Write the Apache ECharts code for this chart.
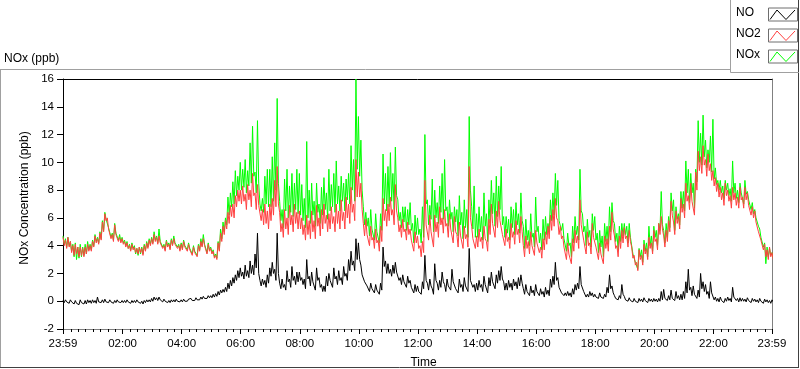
<!DOCTYPE html>
<html>
<head>
<meta charset="utf-8">
<script src="https://cdn.jsdelivr.net/npm/echarts@6/dist/echarts.min.js"></script>
<style>
html,body{margin:0;padding:0;background:#fff;}
#chart{width:800px;height:369px;}
</style>
</head>
<body>
<div id="chart"></div>
<script>
// ---- data: 5-minute bins starting at 23:59 (minute -1); for each bin the upper and lower
// values (the trace swings between them inside the bin) ----
const startMinute = -1;
const stepMinutes = 5;
const seriesNames = ['NO', 'NO2', 'NOx'];

const no2High = [
  4.6, 4.4, 4.6, 4.3, 4.0, 4.1, 3.9, 3.9, 3.8, 3.9, 4.1, 4.0,
  4.3, 4.7, 4.5, 4.9, 5.7, 6.3, 6.0, 5.1, 4.8, 5.5, 4.8, 4.6,
  4.5, 4.3, 4.2, 4.0, 4.1, 3.9, 3.8, 3.9, 3.8, 4.0, 4.2, 4.4,
  4.5, 4.8, 4.6, 4.7, 4.2, 4.0, 4.3, 4.1, 4.4, 4.5, 4.2, 4.0,
  4.1, 4.3, 4.0, 4.1, 3.7, 3.9, 3.6, 4.0, 4.3, 4.5, 3.9, 4.1,
  3.8, 3.6, 3.3, 4.2, 4.9, 5.4, 5.8, 6.4, 6.9, 7.0, 7.6, 8.0,
  8.0, 8.3, 7.7, 8.4, 8.0, 9.2, 7.8, 8.4, 6.8, 6.6, 7.0, 6.5,
  7.0, 7.4, 8.7, 9.7, 6.4, 5.6, 6.6, 6.0, 6.9, 6.2, 7.0, 6.4,
  6.5, 6.0, 5.5, 6.2, 5.8, 6.5, 5.8, 6.9, 6.0, 6.6, 7.0, 6.2,
  6.3, 6.8, 6.1, 7.0, 6.5, 7.3, 6.4, 7.5, 7.0, 8.2, 7.0, 10.2,
  9.3, 8.5, 5.6, 5.9, 4.8, 5.4, 4.6, 5.2, 4.4, 5.4, 7.4, 6.6,
  7.0, 7.5, 6.6, 8.4, 6.0, 5.5, 5.9, 5.2, 5.7, 5.2, 4.4, 5.0,
  4.7, 4.0, 4.3, 8.7, 5.4, 6.2, 4.9, 6.2, 5.7, 6.8, 6.0, 6.6,
  5.6, 6.3, 5.2, 6.1, 4.8, 5.7, 4.6, 5.4, 4.8, 9.7, 5.4, 4.6,
  4.7, 5.2, 4.6, 5.4, 4.3, 5.9, 7.0, 5.5, 6.5, 7.2, 5.7, 4.8,
  5.2, 4.6, 5.6, 5.0, 5.8, 5.2, 6.1, 4.0, 4.7, 4.3, 5.0, 4.1,
  5.1, 4.3, 3.9, 4.5, 5.0, 5.4, 6.2, 6.6, 7.4, 5.8, 5.4, 4.7,
  3.8, 4.2, 3.4, 4.5, 5.1, 4.7, 7.3, 5.4, 4.3, 5.0, 4.2, 5.6,
  4.7, 3.8, 4.2, 3.4, 4.7, 4.5, 5.4, 6.4, 4.7, 4.0, 4.7, 5.1,
  5.3, 4.7, 5.1, 3.9, 3.3, 2.8, 3.7, 3.3, 4.1, 3.8, 4.6, 4.2,
  5.1, 4.5, 5.6, 6.1, 4.7, 5.1, 5.8, 7.2, 5.7, 6.5, 6.1, 7.4,
  7.0, 8.5, 7.6, 8.5, 7.2, 9.3, 10.8, 10.4, 11.2, 10.2, 10.6, 9.9,
  9.4, 8.9, 8.5, 8.2, 7.8, 8.5, 8.0, 7.6, 8.2, 7.8, 7.5, 8.2,
  7.5, 8.2, 7.8, 7.0, 6.8, 6.5, 5.8, 5.1, 4.4, 4.1, 3.7, 3.9, 3.5
];
const no2Low = [
  4.0, 3.8, 3.9, 3.5, 3.3, 3.4, 3.2, 3.3, 3.2, 3.4, 3.6, 3.6,
  3.9, 4.2, 4.1, 4.4, 5.0, 5.8, 5.2, 4.5, 4.3, 4.8, 4.3, 4.2,
  4.1, 3.9, 3.8, 3.6, 3.7, 3.5, 3.4, 3.5, 3.3, 3.6, 3.8, 4.0,
  4.1, 4.3, 4.1, 4.2, 3.8, 3.6, 3.9, 3.7, 4.0, 4.1, 3.8, 3.6,
  3.7, 3.9, 3.6, 3.7, 3.3, 3.5, 3.2, 3.6, 3.9, 4.0, 3.4, 3.6,
  3.4, 3.1, 3.0, 3.6, 4.3, 4.8, 5.2, 5.6, 6.1, 6.0, 6.8, 7.2,
  7.0, 7.2, 6.6, 7.3, 6.8, 7.6, 6.6, 6.9, 5.8, 5.5, 5.6, 5.2,
  5.8, 6.2, 6.8, 7.0, 5.0, 4.6, 5.2, 4.8, 5.5, 5.0, 5.6, 5.2,
  5.2, 4.8, 4.4, 4.8, 4.5, 5.0, 4.5, 5.4, 4.7, 5.2, 5.6, 5.0,
  5.2, 5.6, 5.0, 5.6, 5.2, 5.8, 5.2, 6.0, 5.6, 6.4, 5.8, 7.5,
  7.5, 6.6, 4.7, 4.8, 4.0, 4.4, 3.8, 4.2, 3.6, 4.3, 5.8, 5.4,
  5.8, 6.2, 5.5, 6.5, 5.0, 4.6, 5.0, 4.4, 4.8, 4.4, 3.6, 4.2,
  3.8, 3.2, 3.5, 5.5, 4.4, 5.0, 3.9, 5.0, 4.6, 5.5, 4.9, 5.4,
  4.6, 5.2, 4.2, 5.0, 3.9, 4.7, 3.8, 4.5, 3.9, 6.0, 4.5, 3.8,
  3.9, 4.3, 3.8, 4.5, 3.6, 4.8, 5.6, 4.6, 5.3, 5.8, 4.8, 4.0,
  4.3, 3.8, 4.6, 4.1, 4.8, 4.2, 5.0, 3.2, 3.8, 3.4, 4.0, 3.3,
  4.2, 3.5, 3.1, 3.7, 4.1, 4.5, 5.1, 5.4, 6.0, 4.8, 4.5, 3.9,
  3.0, 3.4, 2.7, 3.6, 4.2, 3.8, 5.5, 4.4, 3.4, 4.0, 3.4, 4.6,
  3.9, 3.0, 3.4, 2.7, 3.8, 3.6, 4.4, 5.2, 3.8, 3.2, 3.8, 4.2,
  4.5, 3.9, 4.3, 3.1, 2.6, 2.2, 3.0, 2.6, 3.4, 3.0, 3.8, 3.4,
  4.3, 3.7, 4.8, 5.2, 3.9, 4.3, 5.0, 6.2, 4.8, 5.6, 5.2, 6.4,
  6.0, 7.2, 6.6, 7.2, 6.2, 8.0, 9.4, 9.2, 9.8, 9.0, 9.4, 8.7,
  8.3, 7.9, 7.5, 7.3, 6.9, 7.6, 7.2, 6.7, 7.3, 6.9, 6.7, 7.3,
  6.7, 7.3, 6.9, 6.2, 6.0, 5.7, 5.0, 4.4, 3.7, 3.2, 3.0, 3.2, 3.0
];

const noxHigh = [
  4.7, 4.5, 4.6, 4.3, 4.1, 4.2, 3.9, 4.1, 3.9, 4.1, 4.3, 4.1,
  4.4, 4.8, 4.6, 5.0, 5.8, 6.4, 6.0, 5.2, 4.9, 5.6, 4.9, 4.8,
  4.6, 4.4, 4.3, 4.1, 4.2, 4.0, 3.8, 3.9, 3.9, 4.1, 4.3, 4.5,
  4.6, 5.0, 4.7, 5.2, 4.3, 4.1, 4.4, 4.2, 4.5, 4.7, 4.3, 4.1,
  4.2, 4.4, 4.1, 4.2, 3.8, 4.0, 3.7, 4.1, 4.5, 4.8, 4.0, 4.2,
  3.9, 3.7, 3.4, 4.3, 5.2, 5.7, 6.0, 7.5, 7.8, 8.6, 9.4, 9.0,
  10.0, 9.5, 10.2, 9.4, 11.4, 12.6, 9.3, 13.0, 7.0, 7.4, 9.0, 9.5,
  9.5, 10.4, 11.4, 14.6, 7.2, 6.6, 8.8, 9.5, 8.3, 9.2, 8.5, 9.5,
  9.2, 8.4, 7.4, 11.5, 8.0, 8.5, 7.2, 8.5, 7.0, 8.2, 8.9, 7.8,
  9.5, 8.4, 9.2, 10.1, 8.3, 9.0, 8.5, 8.8, 9.2, 11.2, 10.2, 16.0,
  13.3, 11.6, 6.8, 6.4, 6.0, 6.6, 5.2, 6.3, 5.0, 6.3, 10.6, 9.2,
  9.7, 10.7, 9.2, 11.1, 7.3, 6.4, 6.8, 6.8, 6.6, 7.1, 5.6, 6.2,
  6.0, 5.2, 6.8, 12.0, 7.3, 6.9, 8.8, 8.0, 7.1, 8.3, 9.2, 10.2,
  6.8, 7.3, 6.4, 6.8, 6.6, 7.6, 6.4, 7.3, 6.6, 13.3, 6.8, 8.3,
  6.3, 6.8, 6.1, 7.8, 6.3, 7.3, 8.7, 7.8, 9.0, 8.3, 9.7, 6.1,
  6.1, 5.9, 6.8, 6.6, 7.1, 6.3, 7.8, 5.4, 5.9, 5.1, 6.3, 4.9,
  7.5, 5.4, 4.9, 5.9, 6.1, 5.6, 7.3, 7.8, 9.2, 8.7, 5.9, 5.6,
  4.4, 4.9, 4.2, 5.4, 6.1, 5.4, 9.5, 6.3, 5.4, 5.9, 5.1, 6.3,
  6.1, 4.9, 5.1, 4.7, 5.6, 5.4, 6.8, 7.1, 5.6, 4.9, 5.4, 5.6,
  5.6, 5.4, 5.6, 4.0, 3.5, 2.8, 3.8, 3.7, 4.4, 4.2, 5.4, 4.7,
  5.4, 5.1, 5.6, 7.9, 5.1, 5.6, 6.1, 7.8, 7.3, 6.8, 6.3, 7.9,
  7.9, 10.1, 9.5, 9.2, 8.5, 9.5, 13.0, 12.1, 13.4, 11.6, 10.9, 11.9,
  13.1, 9.6, 8.7, 8.7, 8.3, 8.7, 8.5, 8.1, 10.1, 8.5, 8.0, 8.5,
  7.8, 8.7, 7.9, 7.3, 7.1, 6.6, 6.1, 5.2, 4.5, 4.2, 3.9, 3.8, 3.5
];
const noxLow = [
  4.1, 3.9, 4.0, 3.6, 3.2, 3.0, 3.1, 3.2, 3.3, 3.4, 3.7, 3.7,
  4.0, 4.3, 4.2, 4.5, 5.1, 5.9, 5.3, 4.6, 4.4, 4.9, 4.4, 4.3,
  4.2, 4.0, 3.8, 3.7, 3.8, 3.4, 3.3, 3.4, 3.4, 3.7, 3.9, 4.1,
  4.2, 4.4, 4.2, 4.3, 3.9, 3.7, 4.0, 3.8, 4.1, 4.2, 3.9, 3.7,
  3.8, 4.0, 3.7, 3.8, 3.4, 3.6, 3.3, 3.7, 4.0, 4.1, 3.5, 3.7,
  3.5, 3.2, 3.1, 3.7, 4.5, 5.0, 5.5, 6.2, 6.8, 7.0, 7.6, 8.0,
  8.0, 8.2, 7.8, 8.3, 8.5, 9.0, 7.8, 8.5, 6.5, 6.4, 7.0, 6.8,
  6.8, 7.2, 8.0, 8.5, 5.8, 5.3, 6.5, 6.0, 6.4, 6.1, 6.6, 6.3,
  6.2, 5.8, 5.3, 6.0, 5.6, 6.2, 5.4, 6.4, 5.6, 6.2, 6.6, 5.9,
  6.5, 6.8, 6.4, 7.0, 6.5, 7.2, 6.5, 7.3, 7.0, 8.0, 7.2, 9.5,
  9.0, 8.0, 5.5, 5.4, 4.7, 5.2, 4.4, 5.0, 4.2, 5.1, 7.0, 6.5,
  6.8, 7.2, 6.6, 7.6, 5.8, 5.3, 5.7, 5.1, 5.5, 5.1, 4.2, 4.8,
  4.8, 4.2, 4.6, 7.0, 5.5, 5.9, 5.0, 6.0, 5.6, 6.4, 5.9, 6.5,
  5.4, 5.9, 5.0, 5.7, 4.7, 5.5, 4.5, 5.3, 4.6, 8.0, 5.2, 4.6,
  4.6, 5.0, 4.4, 5.4, 4.3, 5.6, 6.3, 5.4, 6.1, 6.6, 5.5, 4.6,
  4.9, 4.4, 5.3, 4.8, 5.5, 4.9, 5.8, 3.8, 4.4, 4.0, 4.6, 3.9,
  5.0, 4.2, 3.7, 4.4, 4.8, 5.0, 5.8, 6.2, 6.9, 5.8, 5.1, 4.5,
  3.6, 4.0, 3.2, 4.2, 4.8, 4.4, 6.5, 5.0, 4.0, 4.6, 3.9, 5.1,
  4.4, 3.5, 3.9, 3.2, 4.3, 4.1, 5.0, 5.8, 4.3, 3.7, 4.3, 4.7,
  4.8, 4.2, 4.6, 3.4, 2.8, 2.3, 3.2, 2.8, 3.6, 3.2, 4.0, 3.6,
  4.6, 4.0, 5.1, 5.5, 4.2, 4.6, 5.3, 6.5, 5.1, 5.9, 5.5, 6.7,
  6.5, 7.8, 7.1, 7.8, 6.7, 8.6, 10.0, 9.8, 10.4, 9.6, 10.0, 9.3,
  8.8, 8.4, 8.0, 7.8, 7.4, 8.0, 7.6, 7.2, 7.8, 7.4, 7.1, 7.8,
  7.0, 7.7, 7.3, 6.6, 6.3, 6.0, 5.4, 4.6, 3.9, 2.7, 3.2, 3.3, 3.1
];

const noHigh = [
  0.05, 0.1, 0.0, 0.1, 0.0, 0.05, -0.05, 0.1, 0.0, 0.05, 0.1, 0.05,
  0.1, 0.05, 0.3, 0.05, 0.1, 0.15, 0.05, 0.1, 0.0, 0.05, 0.1, 0.05,
  0.05, 0.05, 0.1, 0.0, 0.05, 0.05, 0.1, 0.0, 0.0, 0.05, 0.1, 0.1,
  0.2, 0.3, 0.25, 0.3, 0.15, 0.15, 0.1, 0.05, 0.1, 0.1, 0.15, 0.1,
  0.1, 0.15, 0.1, 0.15, 0.2, 0.15, 0.25, 0.2, 0.3, 0.35, 0.3, 0.4,
  0.4, 0.5, 0.55, 0.7, 0.8, 0.85, 1.0, 1.3, 1.5, 1.7, 1.9, 2.2,
  2.4, 2.1, 2.6, 2.2, 2.9, 2.6, 3.4, 4.9, 1.5, 1.6, 1.5, 1.9,
  2.4, 2.8, 2.3, 4.9, 1.3, 1.6, 1.2, 2.2, 1.6, 2.5, 1.8, 2.1,
  2.1, 1.7, 1.6, 3.0, 1.8, 2.1, 1.3, 2.4, 1.7, 1.2, 1.1, 1.8,
  2.0, 1.5, 2.4, 1.8, 2.2, 1.7, 2.5, 2.0, 3.0, 3.6, 2.9, 4.5,
  4.2, 2.6, 1.8, 1.5, 1.1, 1.3, 0.9, 1.2, 0.8, 1.3, 3.9, 2.9,
  2.7, 2.3, 2.6, 2.8, 2.1, 1.7, 1.9, 1.5, 1.8, 1.5, 1.0, 1.2,
  1.1, 0.8, 1.4, 3.3, 1.3, 1.6, 0.9, 2.7, 1.3, 1.5, 2.1, 1.2,
  1.6, 1.2, 2.3, 1.4, 1.0, 1.6, 1.2, 1.7, 1.2, 3.8, 1.6, 1.2,
  1.3, 1.5, 1.2, 1.8, 1.1, 1.7, 2.1, 1.5, 1.9, 2.2, 2.5, 1.4,
  1.3, 1.5, 1.3, 1.6, 1.4, 1.7, 1.9, 0.9, 1.2, 0.8, 1.1, 0.8,
  1.2, 0.8, 0.9, 0.7, 1.0, 0.8, 1.6, 1.8, 2.8, 1.7, 1.1, 0.7,
  0.6, 0.7, 0.6, 0.9, 1.2, 1.3, 2.5, 1.1, 0.6, 0.5, 0.7, 0.6,
  0.5, 0.4, 0.6, 0.4, 0.5, 1.0, 1.9, 1.1, 0.4, 0.3, 0.4, 1.2,
  0.35, 0.2, 0.25, 0.15, 0.2, 0.1, 0.2, 0.15, 0.25, 0.1, 0.2, 0.15,
  0.2, 0.15, 0.2, 0.7, 0.85, 0.3, 0.4, 0.8, 0.3, 0.7, 0.4, 0.5,
  0.7, 1.4, 2.3, 1.0, 1.1, 0.5, 0.8, 2.0, 1.4, 1.2, 0.7, 1.4,
  0.5, 0.3, 0.2, 0.3, 0.15, 0.2, 0.3, 0.2, 1.0, 0.3, 0.2, 0.25,
  0.2, 0.15, 0.25, 0.1, 0.2, 0.15, 0.1, 0.2, 0.05, 0.15, 0.1, 0.05, 0.1
];
const noLow = [
  -0.1, -0.05, -0.15, -0.05, -0.2, -0.15, -0.25, -0.1, -0.2, -0.2, -0.1, -0.15,
  -0.1, -0.15, -0.05, -0.1, -0.1, -0.05, -0.1, -0.05, -0.15, -0.1, -0.05, -0.1,
  -0.1, -0.1, -0.05, -0.15, -0.1, -0.1, -0.05, -0.15, -0.2, -0.1, -0.05, -0.05,
  0.0, 0.1, 0.05, 0.1, -0.05, 0.0, -0.1, -0.1, -0.05, -0.05, 0.0, -0.05,
  -0.05, 0.0, 0.0, 0.05, 0.05, 0.05, 0.1, 0.1, 0.15, 0.2, 0.2, 0.25,
  0.25, 0.3, 0.35, 0.45, 0.6, 0.65, 0.7, 0.9, 1.1, 1.3, 1.5, 1.7,
  1.8, 1.6, 1.8, 1.7, 2.0, 1.9, 2.4, 2.0, 1.1, 1.2, 1.0, 1.3,
  1.8, 2.0, 1.5, 2.0, 0.9, 1.0, 0.8, 1.4, 1.0, 1.5, 1.2, 1.4,
  1.5, 1.2, 0.9, 1.6, 1.1, 1.4, 0.8, 1.5, 1.0, 0.7, 0.7, 1.1,
  1.5, 1.0, 1.6, 1.2, 1.5, 1.2, 1.8, 1.5, 2.2, 2.6, 2.2, 3.0,
  3.0, 1.9, 1.4, 1.1, 0.7, 0.9, 0.6, 0.8, 0.5, 0.8, 2.5, 2.0,
  2.0, 1.8, 2.0, 2.1, 1.5, 1.2, 1.4, 1.0, 1.3, 1.0, 0.6, 0.7,
  0.7, 0.5, 0.9, 1.5, 0.8, 1.1, 0.5, 1.5, 0.8, 1.0, 1.4, 0.7,
  1.1, 0.8, 1.4, 0.9, 0.6, 1.0, 0.7, 1.1, 0.7, 1.5, 1.0, 0.7,
  0.8, 1.0, 0.7, 1.2, 0.6, 1.1, 1.4, 0.9, 1.3, 1.5, 1.6, 0.8,
  0.8, 1.0, 0.8, 1.1, 0.9, 1.1, 1.3, 0.5, 0.7, 0.4, 0.6, 0.4,
  0.7, 0.4, 0.5, 0.3, 0.5, 0.4, 1.0, 1.2, 1.5, 1.0, 0.6, 0.4,
  0.4, 0.4, 0.3, 0.5, 0.8, 0.9, 1.2, 0.7, 0.3, 0.3, 0.4, 0.3,
  0.3, 0.2, 0.3, 0.2, 0.3, 0.6, 0.9, 0.6, 0.2, 0.1, 0.2, 0.5,
  0.1, 0.0, 0.05, -0.05, 0.0, -0.1, 0.0, -0.05, 0.05, -0.1, 0.0, -0.05,
  0.0, -0.05, 0.0, 0.1, 0.2, 0.05, 0.1, 0.2, 0.05, 0.2, 0.1, 0.1,
  0.2, 0.6, 0.8, 0.4, 0.5, 0.2, 0.3, 0.9, 0.7, 0.5, 0.2, 0.6,
  0.1, 0.0, -0.05, 0.05, -0.1, 0.0, 0.05, -0.05, 0.3, 0.05, -0.05, 0.0,
  0.0, -0.05, 0.05, -0.1, 0.0, -0.05, -0.1, 0.0, -0.15, -0.05, -0.1, -0.15, -0.05
];

// axis ticks
const tickMinutes = [-1, 120, 240, 360, 480, 600, 720, 840, 960, 1080, 1200, 1320, 1439];
const tickLabels = ['23:59', '02:00', '04:00', '06:00', '08:00', '10:00', '12:00',
                    '14:00', '16:00', '18:00', '20:00', '22:00', '23:59'];
const yTicks = [-2, 0, 2, 4, 6, 8, 10, 12, 14, 16];

// ---- build ----
function toPairs(high, low) {
  const out = [];
  for (let i = 0; i < high.length; i++) {
    const t = startMinute + i * stepMinutes;
    out.push([t, high[i]]);
    out.push([t + stepMinutes / 2, low[i]]);
  }
  return out;
}
const minorTicks = [];
for (let m = 0; m <= 1425; m += 15) minorTicks.push(m);

const FONT = '"Liberation Sans", Arial, sans-serif';
const chart = echarts.init(document.getElementById('chart'), null, { renderer: 'canvas' });

function legendItem(name, color, cy) {
  const bx = 768, by = cy - 6.5;
  return [
    { type: 'text', left: 736, top: cy - 7, style: { text: name, font: '12px ' + FONT, fill: '#000' } },
    { type: 'rect', shape: { x: bx + 0.5, y: by + 0.5, width: 29, height: 13 },
      style: { fill: '#fff', stroke: '#6e6e6e', lineWidth: 1 } },
    { type: 'polyline', shape: { points: [[bx + 2, by + 12], [bx + 9, by + 2.5], [bx + 18, by + 12], [bx + 27, by + 2.5]] },
      style: { stroke: color, lineWidth: 1, fill: null } }
  ];
}

const option = {
  animation: false,
  backgroundColor: '#fff',
  textStyle: { fontFamily: FONT },
  grid: { left: 63, right: 28, top: 79, bottom: 40, show: false, containLabel: false, outerBoundsMode: 'none' },
  xAxis: [
    {
      type: 'value', min: -1, max: 1439, position: 'bottom',
      name: 'Time', nameLocation: 'middle', nameGap: 28,
      nameTextStyle: { fontFamily: FONT, fontSize: 12, color: '#000', padding: [0, 0, 0, 12] },
      axisLine: { show: true, onZero: false, lineStyle: { color: '#808080', width: 1 } },
      axisTick: { show: true, inside: false, length: 5, customValues: tickMinutes, lineStyle: { color: '#000' } },
      axisLabel: {
        show: true, margin: 9, fontFamily: FONT, fontSize: 11.5, color: '#000',
        customValues: tickMinutes,
        formatter: function (v) { const k = tickMinutes.indexOf(Math.round(v)); return k >= 0 ? tickLabels[k] : ''; }
      },
      splitLine: { show: false }
    },
    {
      type: 'value', min: -1, max: 1439, position: 'bottom',
      axisLine: { show: false, onZero: false },
      axisTick: { show: true, length: 3, customValues: minorTicks, lineStyle: { color: '#000' } },
      axisLabel: { show: false },
      splitLine: { show: false }
    },
    {
      type: 'value', min: -1, max: 1439, position: 'top',
      axisLine: { show: true, onZero: false, lineStyle: { color: '#000', width: 1 } },
      axisTick: { show: false }, axisLabel: { show: false }, splitLine: { show: false }
    }
  ],
  yAxis: [
    {
      type: 'value', min: -2, max: 16, interval: 2, position: 'left',
      name: 'NOx Concentration (ppb)', nameLocation: 'middle', nameGap: 16, nameRotate: 90,
      nameTextStyle: { fontFamily: FONT, fontSize: 12, color: '#000', padding: [0, 0, 0, 12] },
      axisLine: { show: true, onZero: false, lineStyle: { color: '#000', width: 1 } },
      axisTick: { show: true, length: 6, customValues: yTicks, lineStyle: { color: '#000' } },
      axisLabel: { margin: 9, fontFamily: FONT, fontSize: 11.5, color: '#000' },
      splitLine: { show: false }
    },
    {
      type: 'value', min: -2, max: 16, position: 'right',
      axisLine: { show: true, onZero: false, lineStyle: { color: '#808080', width: 1 } },
      axisTick: { show: false }, axisLabel: { show: false }, splitLine: { show: false }
    }
  ],
  series: [
    { name: seriesNames[2], type: 'line', data: toPairs(noxHigh, noxLow), showSymbol: false, symbol: 'none',
      lineStyle: { color: '#00ff00', width: 1 }, itemStyle: { color: '#00ff00' }, z: 2, clip: true },
    { name: seriesNames[1], type: 'line', data: toPairs(no2High, no2Low), showSymbol: false, symbol: 'none',
      lineStyle: { color: '#ff4040', width: 1 }, itemStyle: { color: '#ff4040' }, z: 3, clip: true },
    { name: seriesNames[0], type: 'line', data: toPairs(noHigh, noLow), showSymbol: false, symbol: 'none',
      lineStyle: { color: '#000000', width: 1 }, itemStyle: { color: '#000' }, z: 4, clip: true }
  ],
  graphic: [
    { type: 'line', shape: { x1: 0, y1: 69.5, x2: 731, y2: 69.5 }, style: { stroke: '#a0a0a0', lineWidth: 1 } },
    { type: 'line', shape: { x1: 0.5, y1: 69.5, x2: 0.5, y2: 368 }, style: { stroke: '#a0a0a0', lineWidth: 1 } },
    { type: 'line', shape: { x1: 0, y1: 367.5, x2: 799, y2: 367.5 }, style: { stroke: '#404040', lineWidth: 1 } },
    { type: 'line', shape: { x1: 798.5, y1: 0, x2: 798.5, y2: 368 }, style: { stroke: '#404040', lineWidth: 1 } },
    { type: 'line', shape: { x1: 730.5, y1: 0, x2: 730.5, y2: 72.5 }, style: { stroke: '#a0a0a0', lineWidth: 1 } },
    { type: 'line', shape: { x1: 730.5, y1: 72.5, x2: 799, y2: 72.5 }, style: { stroke: '#a0a0a0', lineWidth: 1 } },
    { type: 'text', left: 4, top: 53, style: { text: 'NOx (ppb)', font: '12px ' + FONT, fill: '#000' } }
  ]
    .concat(legendItem(seriesNames[0], '#000000', 14))
    .concat(legendItem(seriesNames[1], '#ff4040', 35))
    .concat(legendItem(seriesNames[2], '#00ff00', 56))
};

chart.setOption(option);
</script>
</body>
</html>
